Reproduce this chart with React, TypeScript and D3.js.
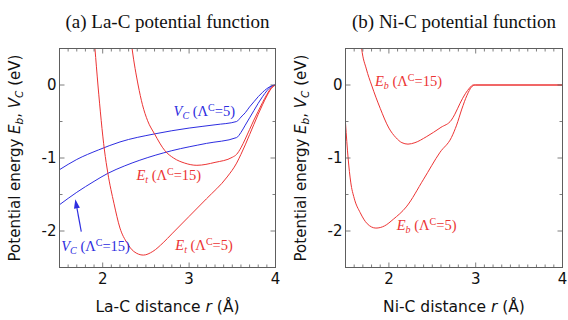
import React from 'react';
import * as d3 from 'd3';

// ---- data (distance r in Å, energy in eV) ----
const laVc5R = [1.5, 1.7, 1.95, 2.2, 2.6, 3.0, 3.3, 3.55, 3.6, 3.65, 3.7, 3.75, 3.8, 3.85, 3.9, 3.95, 4.0];
const laVc5E = [-1.16, -1.02, -0.89, -0.78, -0.67, -0.59, -0.545, -0.5, -0.44, -0.38, -0.3, -0.23, -0.16, -0.1, -0.05, -0.015, 0];

const laVc15R = [1.5, 1.7, 1.9, 2.06, 2.25, 2.43, 2.8, 3.2, 3.55, 3.6, 3.65, 3.7, 3.75, 3.8, 3.85, 3.9, 3.95, 4.0];
const laVc15E = [-1.64, -1.47, -1.32, -1.21, -1.11, -1.03, -0.9, -0.8, -0.72, -0.65, -0.55, -0.45, -0.35, -0.25, -0.16, -0.08, -0.02, 0];

const laEt5R = [1.88, 1.91, 1.945, 2.02, 2.06, 2.13, 2.2, 2.28, 2.36, 2.47, 2.58, 2.7, 2.8, 3.0, 3.2, 3.44, 3.55, 3.6, 3.65, 3.7, 3.75, 3.8, 3.85, 3.9, 3.95, 4.0];
const laEt5E = [0.9, 0.5, 0, -0.89, -1.21, -1.62, -1.96, -2.16, -2.28, -2.33, -2.28, -2.16, -2.04, -1.8, -1.56, -1.26, -1.07, -0.95, -0.82, -0.68, -0.54, -0.4, -0.27, -0.15, -0.05, 0];

const laEt15R = [2.3, 2.34, 2.41, 2.46, 2.52, 2.6, 2.72, 2.82, 2.95, 3.09, 3.3, 3.5, 3.55, 3.6, 3.65, 3.7, 3.75, 3.8, 3.85, 3.9, 3.95, 4.0];
const laEt15E = [0.9, 0.5, 0, -0.27, -0.49, -0.67, -0.9, -1.0, -1.07, -1.1, -1.06, -0.99, -0.95, -0.86, -0.74, -0.61, -0.48, -0.36, -0.24, -0.13, -0.04, 0];

const niEb15R = [1.66, 1.686, 1.74, 1.8, 1.9, 2.0, 2.08, 2.15, 2.22, 2.3, 2.43, 2.6, 2.72, 2.76, 2.82, 2.88, 2.93, 2.97, 3.0, 4.0];
const niEb15E = [0.8, 0.5, 0.22, 0, -0.32, -0.59, -0.72, -0.79, -0.81, -0.79, -0.71, -0.58, -0.48, -0.4, -0.25, -0.12, -0.04, 0, 0, 0];

const niEb5R = [1.5, 1.53, 1.56, 1.6, 1.67, 1.75, 1.85, 1.95, 2.05, 2.2, 2.4, 2.59, 2.72, 2.78, 2.84, 2.9, 2.95, 2.99, 3.0, 4.0];
const niEb5E = [-0.52, -1.0, -1.33, -1.55, -1.75, -1.9, -1.96, -1.93, -1.84, -1.67, -1.29, -0.92, -0.72, -0.55, -0.33, -0.14, -0.03, 0, 0, 0];

const xTicks = [2, 3, 4];
const yTicks = [0, -1, -2];
const xDomain = [1.5, 4];
const yDomain = [-2.5, 0.5];

const BLUE = '#2d2de0';
const RED = '#ec3434';
const FRAME = '#5e5e5e';

const SANS = 'DejaVu Sans';
const SERIF = 'Liberation Serif';

type Lbl = { sym: string; sub: string; lam: string; r: number; e: number; color: string };

const Label = ({ l, x, y }: { l: Lbl; x: any; y: any }) => (
  <text x={x(l.r)} y={y(l.e)} fill={l.color} fontFamily={SERIF} fontSize={14.5}>
    <tspan fontStyle="italic">{l.sym}</tspan>
    <tspan fontStyle="italic" fontSize={10} dy={3}>{l.sub}</tspan>
    <tspan dy={-3}> (Λ</tspan>
    <tspan fontSize={10} dy={-5}>C</tspan>
    <tspan dy={5}>={l.lam})</tspan>
  </text>
);

const Panel = ({ id, x0, x1, title, elem, series, labels, arrow }: any) => {
  const top = 48.5, bottom = 267.5;
  const x = d3.scaleLinear().domain(xDomain).range([x0, x1]);
  const y = d3.scaleLinear().domain(yDomain).range([bottom, top]);
  const line = d3.line<[number, number]>().x(d => x(d[0])).y(d => y(d[1])).curve(d3.curveMonotoneX);
  const minorX = d3.range(15, 41).map(v => v / 10);
  const minorY = d3.range(-5, 2).map(v => v / 2);
  const cx = (x0 + x1) / 2;

  let arrowEl = null;
  if (arrow) {
    const tx = x(arrow.from[0]), ty = y(arrow.from[1]);
    const hx = x(arrow.to[0]), hy = y(arrow.to[1]);
    const ang = Math.atan2(hy - ty, hx - tx);
    const L = 9, Wd = 3;
    const bx = hx - L * Math.cos(ang), by = hy - L * Math.sin(ang);
    const px = -Math.sin(ang) * Wd, py = Math.cos(ang) * Wd;
    arrowEl = (
      <g>
        <line x1={tx} y1={ty} x2={bx} y2={by} stroke={BLUE} strokeWidth={1.2} />
        <polygon points={`${hx},${hy} ${bx + px},${by + py} ${bx - px},${by - py}`} fill={BLUE} />
      </g>
    );
  }

  return (
    <g>
      <defs>
        <clipPath id={id}>
          <rect x={x0} y={top} width={x1 - x0} height={bottom - top} />
        </clipPath>
      </defs>
      <text x={cx} y={28} textAnchor="middle" fontFamily={SERIF} fontSize={19} fill="#111" textLength={204} lengthAdjust="spacingAndGlyphs">
        {title}
      </text>
      <g clipPath={`url(#${id})`}>
        {series.map((s: any, i: number) => (
          <path key={i} d={line(s.r.map((r: number, j: number) => [r, s.e[j]]) as any) || ''} fill="none" stroke={s.color} strokeWidth={1} />
        ))}
      </g>
      {/* ticks */}
      {minorX.map(v => {
        const major = xTicks.includes(v);
        const len = major ? 5 : 3;
        return (
          <g key={'x' + v} stroke={FRAME} strokeWidth={0.8}>
            <line x1={x(v)} x2={x(v)} y1={bottom} y2={bottom - len} />
            <line x1={x(v)} x2={x(v)} y1={top} y2={top + len} />
          </g>
        );
      })}
      {minorY.map(v => {
        const major = yTicks.includes(v);
        const len = major ? 5 : 3;
        return (
          <g key={'y' + v} stroke={FRAME} strokeWidth={0.8}>
            <line x1={x0} x2={x0 + len} y1={y(v)} y2={y(v)} />
            <line x1={x1} x2={x1 - len} y1={y(v)} y2={y(v)} />
          </g>
        );
      })}
      <rect x={x0} y={top} width={x1 - x0} height={bottom - top} fill="none" stroke={FRAME} strokeWidth={1} />
      {xTicks.map(v => (
        <text key={'xl' + v} x={x(v)} y={284} textAnchor="middle" fontFamily={SANS} fontSize={15} fill="#111">{v}</text>
      ))}
      {yTicks.map(v => (
        <text key={'yl' + v} x={x0 - 3} y={y(v)} dy="0.36em" textAnchor="end" fontFamily={SANS} fontSize={15} fill="#111">{v === 0 ? '0' : '-' + Math.abs(v)}</text>
      ))}
      <text x={cx} y={312} textAnchor="middle" fontFamily={SANS} fontSize={15.5} fill="#111">
        {elem}-C distance <tspan fontStyle="italic">r</tspan> (Å)
      </text>
      <text transform={`translate(${x0 - 40},${(top + bottom) / 2}) rotate(-90)`} textAnchor="middle" fontFamily={SANS} fontSize={15} fill="#111">
        Potential energy <tspan fontStyle="italic">E</tspan><tspan fontStyle="italic" fontSize={10.5} dy={3}>b</tspan><tspan dy={-3}>, </tspan><tspan fontStyle="italic">V</tspan><tspan fontStyle="italic" fontSize={10.5} dy={3}>C</tspan><tspan dy={-3}> (eV)</tspan>
      </text>
      {arrowEl}
      {labels.map((l: Lbl, i: number) => <Label key={i} l={l} x={x} y={y} />)}
    </g>
  );
};

const laSeries = [
  { r: laVc5R, e: laVc5E, color: BLUE },
  { r: laVc15R, e: laVc15E, color: BLUE },
  { r: laEt5R, e: laEt5E, color: RED },
  { r: laEt15R, e: laEt15E, color: RED },
];
const niSeries = [
  { r: niEb15R, e: niEb15E, color: RED },
  { r: niEb5R, e: niEb5E, color: RED },
];

const laLabels: Lbl[] = [
  { sym: 'V', sub: 'C', lam: '5', r: 2.82, e: -0.43, color: BLUE },
  { sym: 'E', sub: 't', lam: '15', r: 2.39, e: -1.3, color: RED },
  { sym: 'V', sub: 'C', lam: '15', r: 1.52, e: -2.28, color: BLUE },
  { sym: 'E', sub: 't', lam: '5', r: 2.84, e: -2.26, color: RED },
];
const niLabels: Lbl[] = [
  { sym: 'E', sub: 'b', lam: '15', r: 1.84, e: -0.01, color: RED },
  { sym: 'E', sub: 'b', lam: '5', r: 2.09, e: -1.98, color: RED },
];

const App: React.FC = () => (
  <svg width={568} height={320} style={{ position: 'absolute', left: 0, top: 0, background: '#fff' }}>
    <Panel id="clipA" x0={59.5} x1={275.5} title="(a) La-C potential function" elem="La"
      series={laSeries} labels={laLabels} arrow={{ from: [1.752, -2.01], to: [1.683, -1.566] }} />
    <Panel id="clipB" x0={345.5} x1={562.5} title="(b) Ni-C potential function" elem="Ni"
      series={niSeries} labels={niLabels} />
  </svg>
);

export default App;
